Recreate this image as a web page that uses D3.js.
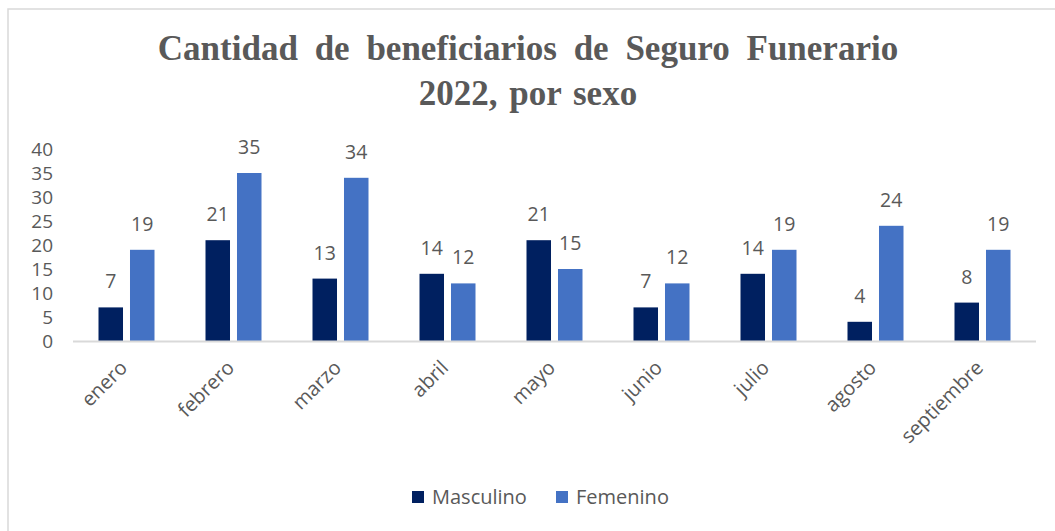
<!DOCTYPE html>
<html>
<head>
<meta charset="utf-8">
<script src="https://cdn.jsdelivr.net/npm/d3@7"></script>
<style>
  html, body { margin: 0; padding: 0; background: #ffffff; }
  svg { display: block; }
</style>
</head>
<body>
<svg id="chart" width="1055" height="531"></svg>
<script>
const categories = ["enero", "febrero", "marzo", "abril", "mayo", "junio", "julio", "agosto", "septiembre"];
const seriesNames = ["Masculino", "Femenino"];
const masculino = [7, 21, 13, 14, 21, 7, 14, 4, 8];
const femenino = [19, 35, 34, 12, 15, 12, 19, 24, 19];
const yTicks = [0, 5, 10, 15, 20, 25, 30, 35, 40];
const colors = ["#002060", "#4472C4"];
const titleLines = ["Cantidad de beneficiarios de Seguro Funerario", "2022, por sexo"];

const svg = d3.select("#chart");
const textColor = "#595959";
const sans = "'Open Sans', 'Noto Sans', sans-serif";

// frame (left and top borders visible)
svg.append("rect").attr("x", 8).attr("y", 9).attr("width", 1060).attr("height", 540)
  .attr("fill", "#fff").attr("stroke", "#d9d9d9").attr("stroke-width", 1.5);

// title
const title = svg.append("text").attr("text-anchor", "middle")
  .attr("font-family", "'Liberation Serif', 'Times New Roman', serif")
  .attr("font-weight", "bold").attr("font-size", 35).attr("fill", textColor);
const titleSpacing = [8, 3];
titleLines.forEach((t, i) => {
  title.append("tspan").attr("x", 528).attr("y", 60 + i * 45)
    .attr("word-spacing", titleSpacing[i]).text(t);
});

const margin = { left: 73, right: 1036, top: 149, bottom: 341 };
const x0 = d3.scaleBand().domain(categories).range([margin.left, margin.right]).padding(0);
const groupW = 56;
const x1 = d3.scaleBand().domain(seriesNames)
  .range([x0.bandwidth() / 2 - groupW / 2, x0.bandwidth() / 2 + groupW / 2])
  .paddingInner(0.222).paddingOuter(0);
const y = d3.scaleLinear().domain([0, 40]).range([margin.bottom, margin.top]);

// y tick labels
const yAxis = d3.axisLeft(y).tickValues(yTicks).tickSize(0).tickPadding(0);
const yg = svg.append("g").attr("transform", "translate(53,0)").call(yAxis);
yg.select(".domain").remove();
yg.selectAll("text").attr("font-family", sans).attr("font-size", 19).attr("fill", textColor);

// bars
const data = categories.map((c, i) => ({ cat: c, vals: [masculino[i], femenino[i]] }));
const groups = svg.append("g").selectAll("g").data(data).join("g")
  .attr("transform", d => `translate(${x0(d.cat)},0)`);
groups.selectAll("rect").data(d => d.vals.map((v, j) => ({ s: seriesNames[j], v, j })))
  .join("rect")
  .attr("x", d => x1(d.s)).attr("width", x1.bandwidth())
  .attr("y", d => y(d.v)).attr("height", d => y(0) - y(d.v))
  .attr("fill", d => colors[d.j]);
groups.selectAll("text").data(d => d.vals.map((v, j) => ({ s: seriesNames[j], v, j })))
  .join("text")
  .attr("x", d => x1(d.s) + x1.bandwidth() / 2).attr("y", d => y(d.v) - 19)
  .attr("text-anchor", "middle").attr("font-family", sans).attr("font-size", 19.5)
  .attr("fill", textColor).text(d => d.v);

// x axis line and labels
const xAxis = d3.axisBottom(x0).tickSize(0).tickPadding(0);
const xg = svg.append("g").attr("transform", `translate(0,${y(0)})`).call(xAxis);
xg.select(".domain").attr("stroke", "#d9d9d9").attr("stroke-width", 2)
  .attr("d", `M${margin.left},0.5H${margin.right}`);
xg.selectAll(".tick text")
  .attr("font-family", sans).attr("font-size", 20).attr("fill", textColor)
  .attr("text-anchor", "end").attr("dy", null)
  .attr("transform", "translate(2,28) rotate(-45)");

// legend
const legend = svg.append("g");
const legendX = [412, 556];
seriesNames.forEach((s, i) => {
  legend.append("rect").attr("x", legendX[i]).attr("y", 491).attr("width", 12).attr("height", 12)
    .attr("fill", colors[i]);
  legend.append("text").attr("x", legendX[i] + 20).attr("y", 504)
    .attr("font-family", sans).attr("font-size", 20).attr("fill", textColor).text(s);
});
</script>
</body>
</html>
